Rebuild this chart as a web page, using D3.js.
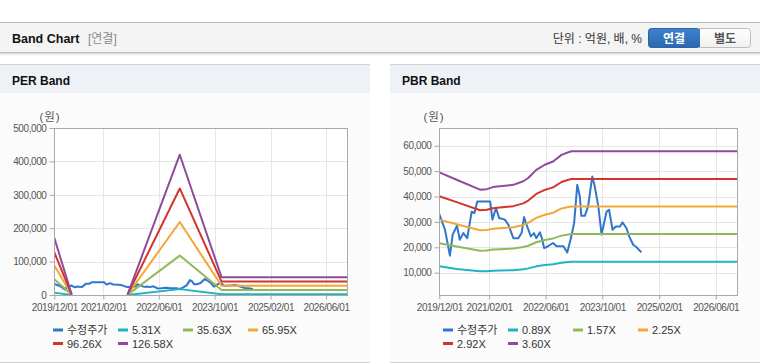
<!DOCTYPE html>
<html><head><meta charset="utf-8">
<script src="https://cdn.jsdelivr.net/npm/d3@7"></script>
<style>
body{margin:0;background:#fff;width:760px;height:364px;overflow:hidden;}
svg{display:block;font-family:"Liberation Sans","Noto Sans CJK KR",sans-serif;}
</style></head><body><svg id="c" width="760" height="364"></svg>
<script>
// ---------- data ----------
const xTickLabels = ["2019-12-01","2021-02-01","2022-06-01","2023-10-01","2025-02-01","2026-06-01"];
const xDomain = ["2019-12-01","2026-12-01"];

const priceLabel = "수정주가";
const priceDates = ["2019-12-01","2020-01-19","2020-03-01","2020-03-25","2020-05-01","2020-05-25","2020-06-25","2020-07-28","2020-09-04","2020-09-28","2020-10-22","2021-02-10","2021-03-01","2021-04-01","2021-04-28","2021-06-16","2021-07-16","2021-08-28","2021-10-10","2021-11-07","2021-11-28","2021-12-19","2022-01-25","2022-02-21","2022-03-13","2022-04-13","2022-05-04","2022-05-19","2022-06-22","2022-08-04","2022-09-04","2022-11-01","2022-12-04","2023-01-01","2023-02-01","2023-02-28","2023-03-22","2023-04-04","2023-05-04","2023-06-01","2023-07-07","2023-07-28","2023-08-28","2023-09-25","2023-10-13","2023-11-07","2023-11-28","2023-12-28","2024-01-25","2024-03-01","2024-03-22","2024-04-25","2024-05-19","2024-06-22","2024-07-19","2024-09-01"];
const priceValues = [33100,26900,16700,25000,28500,23000,25600,23600,34000,33500,38000,38000,30900,35500,31500,30900,28900,23600,23600,25600,31900,28900,24300,25600,23600,25900,23000,19700,20400,21700,20400,20400,18000,23000,29500,44600,40000,32400,32400,36100,47900,44000,36100,25000,28900,34100,34800,26900,28200,28200,29800,27600,24300,21000,20100,18000];

// PER band
const perLabels = ["5.31X","35.63X","65.95X","96.26X","126.58X"];
const perBandDates = ["2019-12-01","2020-05-01","2021-01-01","2021-09-01","2022-12-01","2023-12-01","2026-12-01"];
const perBand531   = [7100,   60,null,  60, 17600, 2200, 2200];
const perBand3563  = [47500, 400,null, 400,118000,14900,14900];
const perBand6595  = [88000, 700,null, 700,218500,27600,27600];
const perBand9626  = [128000,1000,null,1000,319000,40300,40300];
const perBand12658 = [171000,1300,null,1300,420000,53000,53000];
const perYTicks = [0,100000,200000,300000,400000,500000];
const perYDomain = [0,500000];

// PBR band
const pbrLabels = ["0.89X","1.57X","2.25X","2.92X","3.60X"];
const pbrBandDates = ["2019-12-01","2020-04-28","2020-11-15","2021-01-12","2021-03-06","2021-05-03","2021-08-28","2021-11-21","2022-01-03","2022-03-13","2022-05-25","2022-08-04","2022-10-16","2022-12-13","2023-01-10","2026-12-01"];
const pbrBand089 = [12500,11500,10600,10600,10800,10900,11000,11400,11700,12500,13000,13300,13900,14200,14300,14300];
const pbrBand157 = [21600,20300,18600,18700,19100,19200,19500,20100,20600,22000,22900,23500,24600,25000,25200,25200];
const pbrBand225 = [30900,29100,26700,26800,27300,27500,27900,28800,29600,31600,32800,33600,35300,35900,36100,36100];
const pbrBand292 = [40100,37800,34600,34800,35400,35700,36200,37300,38400,41000,42600,43600,45700,46600,46900,46900];
const pbrBand360 = [49500,46600,42700,42900,43700,44000,44600,46000,47300,50500,52500,53800,56400,57400,57800,57800];
const pbrYTicks = [10000,20000,30000,40000,50000,60000];
const pbrYDomain = [1220,66970];

// ---------- styles ----------
const colors = ["#2f77cc","#1eb4c2","#8fba58","#f3a735","#d3342c","#8e4b9c"];
const parse = d3.timeParse("%Y-%m-%d");
const svg = d3.select("#c");

// ---------- top header ----------
const defs = svg.append("defs");
const shg = defs.append("linearGradient").attr("id","shadow").attr("x1",0).attr("x2",0).attr("y1",0).attr("y2",1);
shg.append("stop").attr("offset","0%").attr("stop-color","#d8d8d8");
shg.append("stop").attr("offset","100%").attr("stop-color","#ffffff");
const bg = defs.append("linearGradient").attr("id","blueBtn").attr("x1",0).attr("x2",0).attr("y1",0).attr("y2",1);
bg.append("stop").attr("offset","0%").attr("stop-color","#3f82cc");
bg.append("stop").attr("offset","100%").attr("stop-color","#2a68b0");
const wg = defs.append("linearGradient").attr("id","whiteBtn").attr("x1",0).attr("x2",0).attr("y1",0).attr("y2",1);
wg.append("stop").attr("offset","0%").attr("stop-color","#ffffff");
wg.append("stop").attr("offset","100%").attr("stop-color","#f0f0f0");

svg.append("rect").attr("x",0).attr("y",22).attr("width",760).attr("height",31).attr("fill","#f4f4f4");
svg.append("rect").attr("x",0).attr("y",53).attr("width",760).attr("height",3).attr("fill","url(#shadow)");
svg.append("line").attr("x1",0).attr("x2",760).attr("y1",22.5).attr("y2",22.5).attr("stroke","#b4b4b4");
svg.append("line").attr("x1",0).attr("x2",760).attr("y1",52.5).attr("y2",52.5).attr("stroke","#bcbcbc");
svg.append("text").attr("x",12).attr("y",43).attr("font-size",12.5).attr("font-weight","bold").attr("fill","#111").text("Band Chart");
svg.append("text").attr("x",88).attr("y",43).attr("font-size",12).attr("fill","#8a8a8a").text("[연결]");
svg.append("text").attr("x",642).attr("y",43).attr("font-size",12).attr("fill","#333").attr("text-anchor","end").text("단위 : 억원, 배, %");
svg.append("rect").attr("x",648.5).attr("y",28.5).attr("width",102).attr("height",19).attr("rx",3).attr("fill","url(#whiteBtn)").attr("stroke","#bdbdbd");
svg.append("rect").attr("x",648.5).attr("y",28.5).attr("width",51).attr("height",19).attr("rx",3).attr("fill","url(#blueBtn)").attr("stroke","#2c63a6");
svg.append("rect").attr("x",694).attr("y",29).attr("width",6).attr("height",18).attr("fill","url(#blueBtn)");
svg.append("text").attr("x",674).attr("y",42.5).attr("font-size",12).attr("font-weight","bold").attr("fill","#fff").attr("text-anchor","middle").text("연결");
svg.append("text").attr("x",725).attr("y",42.5).attr("font-size",12).attr("font-weight","bold").attr("fill","#555").attr("text-anchor","middle").text("별도");

// ---------- panels ----------
function drawPanel(cfg){
  const g = svg.append("g");
  const px0 = cfg.px0, pw = cfg.pw;
  g.append("rect").attr("x",px0).attr("y",93).attr("width",pw).attr("height",269).attr("fill","#fbfbfb");
  g.append("rect").attr("x",px0).attr("y",64).attr("width",pw).attr("height",29).attr("fill","#eef1f6");
  g.append("line").attr("x1",px0).attr("x2",px0+pw).attr("y1",64.5).attr("y2",64.5).attr("stroke","#d2d2d2");
  g.append("line").attr("x1",px0).attr("x2",px0+pw).attr("y1",362.5).attr("y2",362.5).attr("stroke","#d0d0d0");
  g.append("text").attr("x",px0+12).attr("y",85).attr("font-size",12).attr("font-weight","bold").attr("fill","#111").text(cfg.title);

  const L = cfg.left, R = cfg.right, T = 128, B = 295;
  const x = d3.scaleTime().domain(xDomain.map(parse)).range([L,R]);
  const y = d3.scaleLinear().domain(cfg.yDomain).range([B,T]);
  g.append("rect").attr("x",L).attr("y",T).attr("width",R-L).attr("height",B-T).attr("fill","#fff");

  const xt = xTickLabels.map(parse);
  g.selectAll(".vg").data(xt).join("line").attr("x1",d=>Math.round(x(d))+0.5).attr("x2",d=>Math.round(x(d))+0.5)
    .attr("y1",T).attr("y2",B).attr("stroke","#e6e6e6");
  g.selectAll(".hg").data(cfg.yTicks).join("line").attr("x1",L).attr("x2",R).attr("y1",d=>Math.round(y(d))+0.5).attr("y2",d=>Math.round(y(d))+0.5).attr("stroke","#e6e6e6");

  const clipId = "clip"+cfg.id;
  defs.append("clipPath").attr("id",clipId).append("rect").attr("x",L).attr("y",T).attr("width",R-L).attr("height",B-T);
  const plot = g.append("g").attr("clip-path",`url(#${clipId})`);
  const line = d3.line().defined(d=>d.v!=null).x(d=>x(d.d)).y(d=>y(d.v));

  const series = [{dates:priceDates, values:priceValues}].concat(cfg.bands.map(b=>({dates:cfg.bandDates, values:b})));
  series.forEach((s,i)=>{
    const pts = s.dates.map((d,j)=>({d:parse(d), v:s.values[j]}));
    plot.append("path").datum(pts).attr("d",line).attr("fill","none").attr("stroke",colors[i]).attr("stroke-width",2).attr("stroke-linejoin","round");
  });

  // frame
  g.append("rect").attr("x",Math.round(L)+0.5).attr("y",T+0.5).attr("width",Math.round(R)-Math.round(L)).attr("height",B-T).attr("fill","none").attr("stroke","#a9a9a9");

  const ya = g.append("g").attr("transform",`translate(${Math.round(L)+0.5},0)`)
    .call(d3.axisLeft(y).tickValues(cfg.yTicks).tickSize(5).tickPadding(3).tickFormat(d3.format(",")));
  const xa = g.append("g").attr("transform",`translate(0,${B+0.5})`)
    .call(d3.axisBottom(x).tickValues(xt).tickSize(4).tickPadding(4).tickFormat(d3.timeFormat("%Y/%m/%d")));
  [ya,xa].forEach(a=>{
    a.select(".domain").remove();
    a.selectAll("line").attr("stroke","#a9a9a9");
    a.selectAll("text").attr("fill","#555").attr("font-size",10).attr("letter-spacing","-0.4px")
      .attr("font-family","'Liberation Sans','Noto Sans CJK KR',sans-serif");
  });
  g.append("text").attr("x",cfg.unitX).attr("y",121).attr("font-size",11.5).attr("fill","#555").attr("text-anchor","middle").attr("letter-spacing","1px").text("(원)");

  // legend
  const labels = [priceLabel].concat(cfg.labels);
  const cx = px0 + pw/2;
  const lx0 = cx - 2*65 - 2;
  labels.forEach((lab,i)=>{
    const col = i%4, row = Math.floor(i/4);
    const lx = lx0 + col*65, ly = 330 + row*13.5;
    g.append("line").attr("x1",lx).attr("x2",lx+10).attr("y1",ly).attr("y2",ly).attr("stroke",colors[i]).attr("stroke-width",3);
    g.append("text").attr("x",lx+14).attr("y",ly+4).attr("font-size",11).attr("fill","#333").text(lab);
  });
}

drawPanel({id:"per", title:"PER Band", px0:0, pw:370, left:54.3, right:347, yDomain:perYDomain, yTicks:perYTicks,
  bandDates:perBandDates, bands:[perBand531,perBand3563,perBand6595,perBand9626,perBand12658], labels:perLabels, unitX:50});
drawPanel({id:"pbr", title:"PBR Band", px0:390, pw:370, left:439.3, right:737, yDomain:pbrYDomain, yTicks:pbrYTicks,
  bandDates:pbrBandDates, bands:[pbrBand089,pbrBand157,pbrBand225,pbrBand292,pbrBand360], labels:pbrLabels, unitX:434});
</script></body></html>
